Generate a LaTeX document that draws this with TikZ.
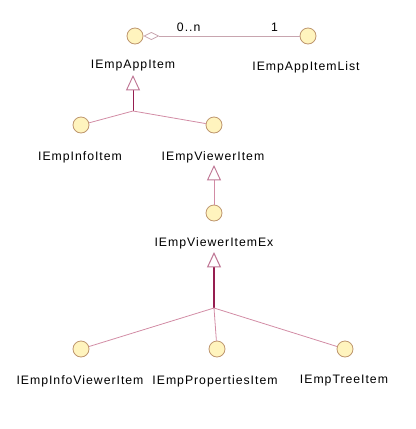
\documentclass[tikz,border=0pt]{standalone}
\usepackage{fontspec}
\setmainfont[LetterSpace=8]{Liberation Sans}
\usetikzlibrary{arrows.meta}
\definecolor{ifacefill}{RGB}{255,244,190}
\definecolor{ifacedraw}{RGB}{190,150,110}
\definecolor{genline}{RGB}{150,30,80}
\definecolor{lightline}{RGB}{210,140,165}
\definecolor{assocline}{RGB}{200,165,175}
\tikzstyle{iface} = [circle, draw=ifacedraw, fill=ifacefill, minimum size=12pt, inner sep=0pt, line width=0.6pt]
\tikzstyle{lbl} = [font=\fontsize{9.2}{10}\selectfont, inner sep=0pt]
\tikzstyle{gen} = [draw=genline, line width=0.7pt, -{Triangle[open, width=10.5pt, length=11.5pt, fill=white, color=genline!60]}]
\tikzstyle{light} = [draw=lightline, line width=0.6pt]
\tikzstyle{assoc} = [draw=assocline, line width=0.6pt]

\begin{document}
\begin{tikzpicture}[x=0.75pt, y=-0.75pt]
    \useasboundingbox (0,0) rectangle (416,429);

    % interfaces
    \node (app) [iface] at (135,36) {};
    \node (applist) [iface] at (308,36) {};
    \node (info) [iface] at (81,125) {};
    \node (viewer) [iface] at (214,125) {};
    \node (viewerex) [iface] at (214,213) {};
    \node (infoviewer) [iface] at (81,349) {};
    \node (props) [iface] at (217,349) {};
    \node (tree) [iface] at (345,349) {};

    % names
    \node (applbl) [lbl] at (133,66) {IEmpAppItem};
    \node (applistlbl) [lbl] at (306,67) {IEmpAppItemList};
    \node (infolbl) [lbl] at (80,157) {IEmpInfoItem};
    \node (viewerlbl) [lbl] at (213,157) {IEmpViewerItem};
    \node (viewerexlbl) [lbl] at (214,243) {IEmpViewerItemEx};
    \node (infoviewerlbl) [lbl] at (80,381) {IEmpInfoViewerItem};
    \node (propslbl) [lbl] at (215,381) {IEmpPropertiesItem};
    \node (treelbl) [lbl] at (344,381) {IEmpTreeItem};

    % junctions and triangle tips
    \coordinate (j1) at (133,111);
    \coordinate (j2) at (214,308);
    \coordinate (a1) at (133,75);
    \coordinate (a2) at (214,165);
    \coordinate (a3) at (214,252);

    \draw [assoc, {Diamond[open, fill=white, length=12pt, width=6pt]}-] (app) -- node[lbl, pos=0.29, above=3pt] {0..n} node[lbl, pos=0.84, above=3pt] {1} (applist);

    \draw [gen] (j1) -- (a1);
    \draw [light] (info) -- (j1);
    \draw [light] (viewer) -- (j1);

    \draw [gen, draw=lightline] (viewerex) -- (a2);

    \draw [gen, line width=0.8pt] (j2) -- (a3);
    \draw [light] (infoviewer) -- (j2);
    \draw [light] (props) -- (j2);
    \draw [light] (tree) -- (j2);
\end{tikzpicture}
\end{document}
